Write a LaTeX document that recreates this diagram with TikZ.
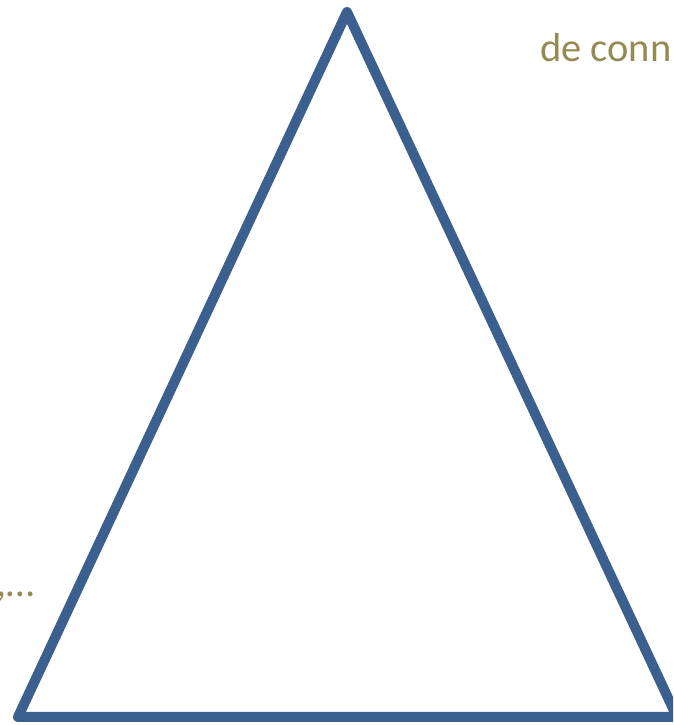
\documentclass[tikz,border=0pt]{standalone}
\usepackage{fontspec}
\setmainfont{Carlito}
\definecolor{triblue}{HTML}{3B5F8E}
\definecolor{olivetext}{HTML}{948A54}
\begin{document}
\begin{tikzpicture}[x=1pt,y=1pt,
  side/.style={draw=triblue,line width=10pt,line join=round},
  lbl/.style={text=olivetext,font=\fontsize{40.5}{46}\selectfont,inner sep=0pt}]
\useasboundingbox (0,0) rectangle (673,725);
\begin{scope}
\clip (0,0) rectangle (673,725);
\coordinate (apex) at (347,713);
\coordinate (bl) at (18,8);
\coordinate (br) at (677,8);
\draw[side] (apex) -- (bl) -- (br) -- cycle;
\node[lbl,anchor=base west] (top) at (540,663) {de conn};
\node[lbl,anchor=base east] (left) at (35,128) {,…};
\end{scope}
\end{tikzpicture}
\end{document}
